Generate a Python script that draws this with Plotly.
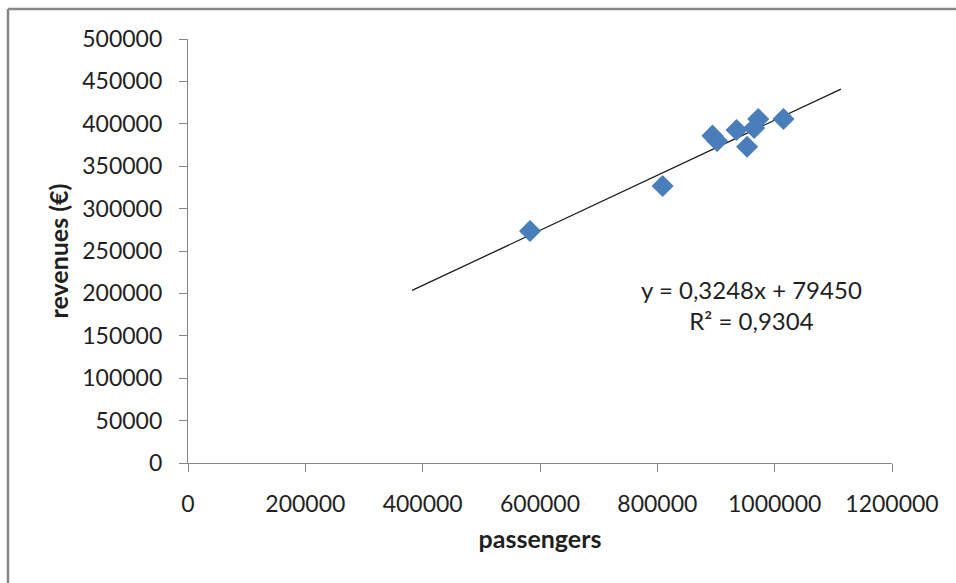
import plotly.graph_objects as go

# Yearly passengers vs. revenues
passengers = [583000, 809000, 894000, 902000, 935000, 953000, 972000, 965000, 1015000]
revenues = [273600, 326600, 386000, 379700, 392700, 373000, 405700, 395000, 405700]

# Linear trendline (as fitted) and the span it is drawn over
slope = 0.3248
intercept = 79450
r_squared = 0.9304
trend_x = [382000, 1113000]
trend_y = [slope * x + intercept for x in trend_x]

x_ticks = [0, 200000, 400000, 600000, 800000, 1000000, 1200000]
y_ticks = [0, 50000, 100000, 150000, 200000, 250000, 300000, 350000, 400000, 450000, 500000]

FONT = "Lato"
AXIS_GREY = "#878787"
TEXT = "#1f1f1f"

fig = go.Figure()

fig.add_trace(go.Scatter(
    x=trend_x, y=trend_y, mode="lines",
    line=dict(color="#1a1a1a", width=1.3),
    hoverinfo="skip", showlegend=False,
))

fig.add_trace(go.Scatter(
    x=passengers, y=revenues, mode="markers",
    marker=dict(symbol="diamond", size=17, color="#4A7EBB", line=dict(width=0)),
    showlegend=False,
))

eq_text = ("y = " + f"{slope:.4f}".replace(".", ",") + "x + " + f"{intercept}"
           + "<br>R² = " + f"{r_squared:.4f}".replace(".", ","))
fig.add_annotation(
    xref="paper", yref="paper", x=0.801, y=0.372,
    text=eq_text, showarrow=False, align="center",
    font=dict(family=FONT, size=24, color=TEXT),
    xanchor="center", yanchor="middle",
)

# Chart-area frame (left and top edges)
frame = dict(color=AXIS_GREY, width=2.5)
fig.add_shape(type="line", xref="paper", yref="paper",
              x0=-0.2557, x1=-0.2557, y0=1.0708, y1=-0.35, line=frame)
fig.add_shape(type="line", xref="paper", yref="paper",
              x0=-0.2557, x1=1.2, y0=1.0708, y1=1.0708, line=frame)

axis_common = dict(
    showgrid=False, zeroline=False, showline=True,
    linecolor=AXIS_GREY, linewidth=1.3,
    ticks="outside", ticklen=8, tickwidth=1.3, tickcolor=AXIS_GREY,
    tickformat="d",
    tickfont=dict(family=FONT, size=23, color=TEXT),
)

fig.update_xaxes(
    range=[0, 1200000], tickvals=x_ticks, ticklabelstandoff=12,
    title=dict(text="<b>passengers</b>", font=dict(family=FONT, size=25, color=TEXT), standoff=14),
    **axis_common,
)
fig.update_yaxes(
    range=[0, 500000], tickvals=y_ticks, ticklabelstandoff=12,
    title=dict(text="<b>revenues (€)</b>", font=dict(family=FONT, size=25, color=TEXT), standoff=6),
    **axis_common,
)

fig.update_layout(
    width=956, height=583,
    margin=dict(l=188, r=64, t=39, b=120),
    plot_bgcolor="white", paper_bgcolor="white",
    showlegend=False,
)

fig.write_html("out.html")
